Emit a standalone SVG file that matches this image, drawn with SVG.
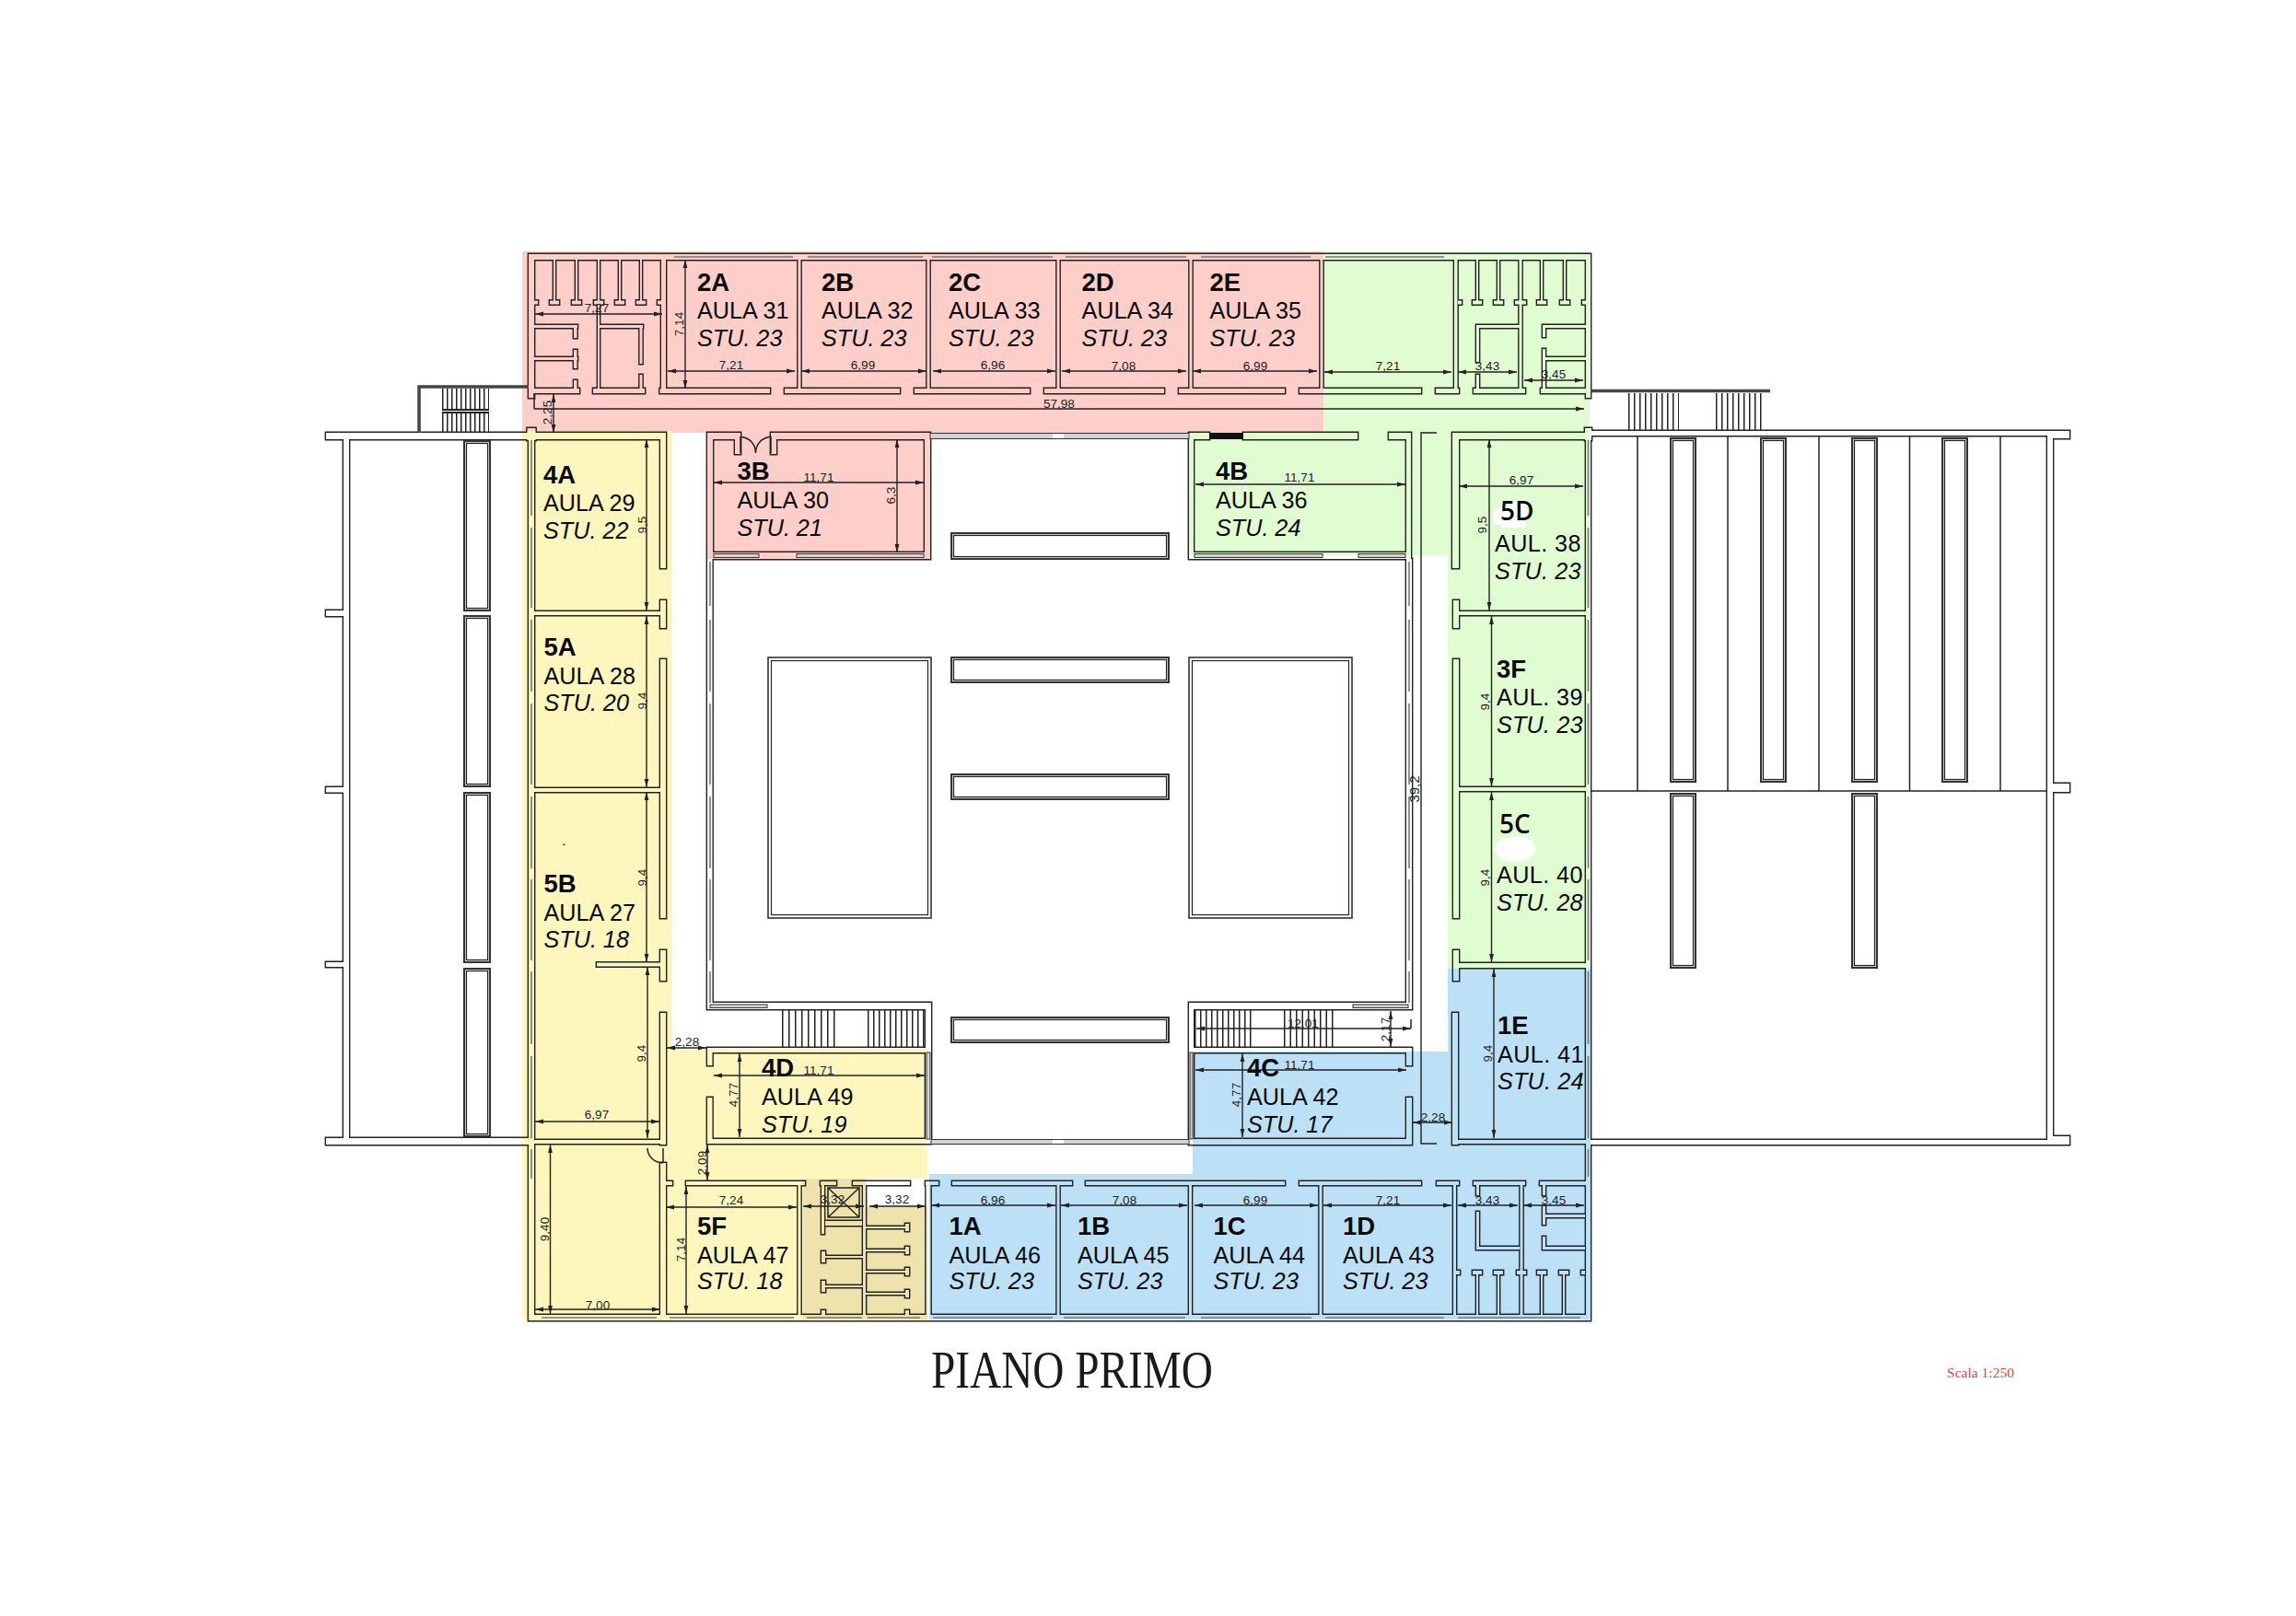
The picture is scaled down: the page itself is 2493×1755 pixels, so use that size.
<svg xmlns="http://www.w3.org/2000/svg" xmlns:xlink="http://www.w3.org/1999/xlink" width="2493" height="1755" viewBox="0 0 2493 1755">
<style>
text{font-family:"Liberation Sans",Arial,sans-serif;fill:#0a0a0a}
.c{font-size:27.5px;font-weight:700}
.a{font-size:25.2px}
.s{font-size:25.2px;font-style:italic}
.n{font-size:13.5px;text-anchor:middle;dominant-baseline:central;fill:#222}
.o{font-family:"Open Sans","Liberation Sans",sans-serif;font-size:28px;font-weight:600}
.d{fill:none;stroke:#222;stroke-width:1.4;marker-start:url(#ar);marker-end:url(#ar)}
.l{fill:none;stroke:#222;stroke-width:1.5}
.g{fill:none;stroke:#777;stroke-width:1.6}
.w1{fill:#d8d8d8;stroke:#333;stroke-width:2}
.w2{fill:#fff;stroke:#222;stroke-width:1.2}
.st{fill:none;stroke:#222}
.p{fill:#d4d4d4;stroke:#333;stroke-width:1}
</style>
<defs>
<marker id="ar" markerUnits="userSpaceOnUse" markerWidth="9" markerHeight="6" refX="9" refY="3" orient="auto-start-reverse"><path d="M0 .6L9 3L0 5.4z" fill="#222"/></marker>
<path id="walls" d="M574 276H1727V282H574ZM574 276H580V432H574ZM580 422H629V427H580ZM644 422H700V427H644ZM716.5 422H836V427H716.5ZM852 422H977V427H852ZM993 422H1118V427H993ZM1134 422H1264V427H1134ZM1280 422H1395V427H1280ZM1411 422H1543V427H1411ZM1559 422H1584V427H1559ZM1600 422H1656V427H1600ZM1673 422H1727V427H1673Z
M718 276H723V427H718ZM866.5 276H869.500V427H866.5ZM1006.5 276H1009.500V427H1006.5ZM1147.5 276H1150.500V427H1147.5ZM1291.5 276H1294.500V427H1291.5ZM1433.5 276H1436.500V427H1433.5ZM1579 276H1582.500V427H1579ZM1649.5 276H1652.500V427H1649.5ZM1722 276H1727V432H1722Z
M601 282H603V328H601ZM597 326.500H607V330.500H597ZM625 282H627V328H625ZM621 326.500H631V330.500H621ZM649 282H651V422H649ZM645 326.500H655V330.500H645ZM672 282H674V328H672ZM668 326.500H678V330.500H668ZM695 282H697V328H695ZM691 326.500H701V330.500H691ZM580 326.500H584V330.500H580ZM714 326.500H718V330.500H714Z
M651 353H698V356H651ZM694.5 353H697.500V395H694.5ZM694.5 407H697.500V422H694.5ZM580 353H627V356H580ZM623 353H626.500V367H623ZM623 380H626.500V400H623ZM580 388H627V391H580ZM623 413H626.500V423H623Z
M1603 282H1605V328H1603ZM1599 326.500H1609V330.500H1599ZM1626 282H1628V328H1626ZM1622 326.500H1632V330.500H1622ZM1673 282H1675V328H1673ZM1669 326.500H1679V330.500H1669ZM1698 282H1700V328H1698ZM1694 326.500H1704V330.500H1694ZM1583 326.500H1587V330.500H1583ZM1645 326.500H1657V330.500H1645ZM1718 326.500H1722V330.500H1718Z
M1603 353H1650V356H1603ZM1603 353H1606V393H1603ZM1603 407H1606V423H1603ZM1675 353H1722V356H1675ZM1675 353H1678V366H1675ZM1675 379H1678V423H1675ZM1675 388H1722V391H1675Z
M354 470H723V477H354ZM354 663H379V669H354ZM354 855H379V860.5H354ZM354 1045H379V1050H354ZM354 1236H574V1243H354ZM373 470H379V1243H373Z
M574 470H580V1434H574ZM572.5 465H581.5V478H572.5ZM580 664H717V668H580ZM580 856H717V860H580ZM648 1045.500H717V1049.500H648ZM574 1238H723V1242H574Z
M717 470H723V617H717ZM717 652H723V682H717ZM717 716H723V997H717ZM717 1032H723V1065H717ZM717 1100H723V1243H717ZM717 1263H723V1434H717Z
M723 1283H730V1287H723ZM745 1283H874V1287H745ZM866.5 1283H869.500V1434H866.5ZM891 1283H908V1287H891ZM892 1283H895V1340H892ZM937 1283H940V1434H937ZM926 1283H988V1287H926ZM1005 1283H1019V1287H1005ZM1005.5 1283H1010.500V1434H1005.5ZM896 1326H936V1331H896Z
M940 1332H985V1334H940ZM983 1329H987V1337H983ZM940 1357H985V1359H940ZM983 1354H987V1362H983ZM940 1380H985V1382H940ZM983 1377H987V1385H983ZM940 1404H985V1406H940ZM983 1401H987V1409H983ZM896 1364H937V1366H896ZM892 1359H896V1371H892ZM896 1396H937V1398H896ZM892 1391H896V1403H892ZM892 1423H896V1428H892ZM983 1423H987V1428H983Z
M1034 1283H1164V1287H1034ZM1179 1283H1395V1287H1179ZM1411 1283H1543V1287H1411ZM1560 1283H1584V1287H1560ZM1600 1283H1656V1287H1600ZM1672 1283H1727V1287H1672ZM574 1428H1727V1434H574Z
M1147.5 1283H1150.500V1434H1147.5ZM1291 1283H1294V1434H1291ZM1432.5 1283H1435.500V1434H1432.5ZM1578 1283H1581V1434H1578ZM1650.5 1283H1653.500V1434H1650.5Z
M1603 1382H1605V1428H1603ZM1599 1380H1609V1384H1599ZM1626 1382H1628V1428H1626ZM1622 1380H1632V1384H1622ZM1673 1382H1675V1428H1673ZM1669 1380H1679V1384H1669ZM1697 1382H1699V1428H1697ZM1693 1380H1703V1384H1693ZM1581 1380H1585V1384H1581ZM1647 1380H1657V1384H1647ZM1717 1380H1721V1384H1717Z
M1603 1283H1606V1298H1603ZM1603 1316H1606V1357H1603ZM1603 1354H1650V1357H1603ZM1675 1283H1678V1298H1675ZM1675 1310H1678V1330H1675ZM1678 1319H1721V1322H1678ZM1675 1343H1678V1357H1675ZM1675 1354H1721V1357H1675Z
M1722 470H1727V1434H1722ZM1721 465H1728V478H1721ZM1577 470H1724V477H1577ZM1577 470H1584V617H1577ZM1578 652H1584V682H1578ZM1578 716H1584V997H1578ZM1578 1032H1584V1065H1578ZM1577 1100H1583V1243H1577ZM1584 664H1722V668H1584ZM1584 855H1722V859H1584ZM1584 1046H1722V1051H1584ZM1577 1238H1722V1242H1577Z
M1727 468H2229V473H1727ZM1727 1238H2229V1243H1727ZM2223 468H2229V1243H2223ZM2229 468H2247V476H2229ZM2229 851H2247V860H2229ZM2229 1234H2247V1243H2229Z
M1291 470H1313V477H1291ZM1350 470H1474V477H1350ZM1508 470H1532V477H1508ZM1291 470H1296V607H1291ZM1527 470H1532V607H1527ZM1291 600H1532V607H1291Z
M768 470H801V477H768ZM838 470H1010V477H838ZM798 470H804V493H798ZM837 470H843V493H837ZM768 470H774V607H768ZM1004 470H1010V607H1004ZM768 600H1010V607H768Z
M768 1138H1011V1143H768ZM768 1138H773.5V1157H768ZM768 1192H773.5V1242H768ZM768 1237H1011V1242H768ZM1005 1089H1011V1242H1005Z
M1291 1138H1533V1143H1291ZM1291 1089H1296V1243H1291ZM1527 1138H1533V1157H1527ZM1527 1192H1533V1242H1527ZM1291 1237H1533V1243H1291Z
M768 607H773.5V1096H768ZM1527 607H1533V1096H1527ZM768 1089H1011V1096H768ZM1291 1089H1533V1096H1291Z"/>
<mask id="cut" maskUnits="userSpaceOnUse" x="0" y="0" width="2493" height="1755"><rect width="2493" height="1755" fill="#fff"/><use xlink:href="#walls" href="#walls" fill="#000"/></mask>
</defs>
<rect width="2493" height="1755" fill="#fff"/>
<g id="zones">
<path id="zone-pink" fill="#fdcfc8" d="M567 273H1437V470H1010V607H768V470H567Z"/>
<path id="zone-yellow" fill="#fdf6bd" d="M567 468H730V1139H1007V1280H872V1433H567Z"/>
<path id="zone-green" fill="#dffdd0" d="M1437 273H1726V1052H1572V603H1291V470H1437Z"/>
<path id="zone-blue" fill="#bce0f5" d="M1572 1052H1727V1433H1009V1275H1295V1142H1572Z"/>
<path id="zone-beige" fill="#eee3ac" d="M872 1280H940V1310H1007V1433H872Z"/>
<rect x="1630" y="544" width="27" height="29" fill="#fff"/><ellipse cx="1627" cy="561" rx="6" ry="9" fill="#fff"/>
<ellipse cx="1645" cy="922" rx="22" ry="14" fill="#fff"/>
<rect x="611.500" y="916.500" width="2" height="1.500" fill="#333"/>
</g>
<g id="walls-drawn" mask="url(#cut)"><use xlink:href="#walls" href="#walls" fill="#222" stroke="#222" stroke-width="2.800"/></g>
<g id="glazing">
<path class="g" d="M732 279H861M877 279H1002M1012 279H1143M1157 279H1288M1304 279H1423M1439 279H1568M588 1431H713M727 1431H862M876 1431H936M942 1431H999M1013 1431H1143M1155 1431H1287M1304 1431H1424M1439 1431H1568M1583 1431H1716"/>
<path class="g" d="M577 478V560M577 573V660M577 673V751M577 764V852M577 865V943M577 955V1043M577 1055V1134M577 1147V1236M577 1248V1280M1724.500 478V560M1724.500 573V660M1724.500 673V751M1724.500 764V852M1724.500 865V943M1724.500 955V1043M1724.500 1055V1134M1724.500 1147V1236M1724.500 1248V1278M771 610V658M771 673V751M771 764V852M771 865V943M771 955V1043M771 1055V1089M1530 610V658M1530 673V751M1530 764V852M1530 865V943M1530 955V1043M1530 1055V1089"/>
<rect class="p" x="1010" y="470.500" width="281" height="6"/><rect x="1143" y="471" width="12" height="5" fill="#fff"/>
<rect class="p" x="1011" y="1237.500" width="280" height="5"/><rect x="1143" y="1238" width="12" height="4" fill="#fff"/>
<rect class="p" x="775" y="601.500" width="49" height="4"/><rect class="p" x="865" y="601.500" width="138" height="4"/>
<rect class="p" x="1297" y="601.500" width="139" height="4"/><rect class="p" x="1475" y="601.500" width="51" height="4"/>
<rect class="p" x="1006" y="1143" width="4" height="94"/><rect class="p" x="1292" y="1143" width="3" height="94"/>
<rect class="p" x="771" y="1091" width="62" height="3.500"/><rect class="p" x="1469" y="1091" width="60" height="3.500"/>
<rect x="1313" y="470" width="37" height="7" fill="#111"/>
<path d="M455 470V420H574M1727 424.500H1922" fill="none" stroke="#444" stroke-width="3.500"/>
</g>
<g id="stairs">
<line class="st" x1="480" x2="531" y1="433.500" y2="433.500" stroke-width="23" stroke-dasharray="1.500 3.500"/>
<line class="st" x1="480" x2="531" y1="459" y2="459" stroke-width="22" stroke-dasharray="1.500 3.500"/>
<path class="l" d="M480 445H531M480 448H531" style="stroke-width:2"/>
<line class="st" x1="1768" x2="1823" y1="447.500" y2="447.500" stroke-width="41" stroke-dasharray="1.500 4.500"/>
<line class="st" x1="1863" x2="1917" y1="447.500" y2="447.500" stroke-width="41" stroke-dasharray="1.500 4.500"/>
<line class="st" x1="849" x2="908" y1="1117" y2="1117" stroke-width="42" stroke-dasharray="1.500 5.500"/>
<line class="st" x1="942" x2="1005" y1="1117" y2="1117" stroke-width="42" stroke-dasharray="1.500 4.500"/>
<line class="st" x1="1297" x2="1359" y1="1117" y2="1117" stroke-width="42" stroke-dasharray="1.500 4.500"/>
<line class="st" x1="1394" x2="1452" y1="1117" y2="1117" stroke-width="42" stroke-dasharray="1.500 5"/>
<path class="l" d="M899 1290H933V1322H899ZM899 1290L933 1322M933 1290L899 1322"/>
<path class="l" d="M804 474V492M837 474V492M804 474Q820 477 820.500 492M837 474Q821 477 820.500 492"/>
<path class="l" d="M703 1247A17 16 0 0 0 720 1263M720 1247V1263"/>
</g>
<g id="openings">
<path class="l" d="M1778 473V859M1876 473V859M1975 473V859M2073.500 473V859M2172 473V859M1727 859H2223M580 427V444"/>
<rect class="w1" x="504" y="479" width="28" height="184"/><rect class="w2" x="506.500" y="481.500" width="23" height="179"/>
<rect class="w1" x="504" y="669" width="28" height="185"/><rect class="w2" x="506.500" y="671.500" width="23" height="180"/>
<rect class="w1" x="504" y="861" width="28" height="184"/><rect class="w2" x="506.500" y="863.500" width="23" height="179"/>
<rect class="w1" x="504" y="1052" width="28" height="182"/><rect class="w2" x="506.500" y="1054.500" width="23" height="177"/>
<rect class="w1" x="1814" y="476" width="27" height="373"/><rect class="w2" x="1816.500" y="478.500" width="22" height="368"/>
<rect class="w1" x="1912" y="476" width="27" height="373"/><rect class="w2" x="1914.500" y="478.500" width="22" height="368"/>
<rect class="w1" x="2011" y="476" width="27" height="373"/><rect class="w2" x="2013.500" y="478.500" width="22" height="368"/>
<rect class="w1" x="2109" y="476" width="27" height="373"/><rect class="w2" x="2111.500" y="478.500" width="22" height="368"/>
<rect class="w1" x="1814" y="862" width="27" height="189"/><rect class="w2" x="1816.500" y="864.500" width="22" height="184"/>
<rect class="w1" x="2011" y="862" width="27" height="189"/><rect class="w2" x="2013.500" y="864.500" width="22" height="184"/>
<rect class="w1" x="1033" y="579" width="236" height="28"/><rect class="w2" x="1035.500" y="581.500" width="231" height="23"/>
<rect class="w1" x="1033" y="714" width="236" height="27"/><rect class="w2" x="1035.500" y="716.500" width="231" height="22"/>
<rect class="w1" x="1033" y="841" width="236" height="27"/><rect class="w2" x="1035.500" y="843.500" width="231" height="22"/>
<rect class="w1" x="1033" y="1105" width="236" height="27"/><rect class="w2" x="1035.500" y="1107.500" width="231" height="22"/>
<rect class="w1" x="834" y="714" width="177" height="283" style="fill:#fff;stroke-width:1.6"/><rect class="w2" x="837.500" y="717.500" width="170" height="276"/>
<rect class="w1" x="1291" y="714" width="177" height="283" style="fill:#fff;stroke-width:1.6"/><rect class="w2" x="1294.500" y="717.500" width="170" height="276"/>
</g>
<g id="connectors">
<path class="d" d="M581 341H719"/><path class="d" d="M725 403H863"/><path class="d" d="M870 403H1006"/><path class="d" d="M1013 403H1146"/><path class="d" d="M1153 403H1288"/><path class="d" d="M1295 403H1430"/><path class="d" d="M1438 404H1576"/><path class="d" d="M1583 404H1647"/><path class="d" d="M1655 413H1719"/>
<path class="d" style="marker-start:none" d="M580 444H1720"/>
<path class="d" d="M601 428V470"/><path class="d" d="M744 282V422"/><path class="d" d="M775 524H1003"/><path class="d" d="M974 477V600"/><path class="d" d="M1298 526H1526"/>
<path class="d" style="marker-start:none;marker-end:none" d="M1560 470H1543V1242H1560"/>
<path class="d" d="M1617 477V663"/><path class="d" d="M1584 528H1719"/><path class="d" d="M1619.500 669V854"/><path class="d" d="M1619.500 860V1045"/><path class="d" d="M1622 1052V1236"/>
<path class="d" d="M702 477V663"/><path class="d" d="M702 669V855"/><path class="d" d="M702 860V1045"/><path class="d" d="M703 1050V1236"/>
<path class="d" d="M581 1218H716"/><path class="d" d="M581 1422H717"/><path class="d" d="M597.500 1243V1427"/><path class="d" d="M724 1138H767"/><path class="d" d="M768 1243V1282"/>
<path class="d" d="M775 1168H1004"/><path class="d" d="M803 1144V1235"/><path class="d" d="M723 1311H865"/><path class="d" d="M745 1288V1427"/>
<path class="d" d="M872 1310H938"/><path class="d" d="M944 1310H1005"/><path class="d" d="M1011 1309H1146"/><path class="d" d="M1152 1309H1289"/><path class="d" d="M1297 1309H1431"/><path class="d" d="M1437 1309H1576"/><path class="d" d="M1583 1309H1648"/><path class="d" d="M1654 1309H1720"/>
<path class="d" d="M1298 1162H1527"/><path class="d" d="M1349 1144V1235"/><path class="d" d="M1299 1117H1532"/><path class="l" d="M1532 1107V1117"/><path class="d" d="M1510 1098V1137"/><path class="d" d="M1534 1219H1577"/>
</g>
<g id="dimensions">
<text class="n" x="648" y="334">7,27</text><text class="n" x="794" y="396">7,21</text><text class="n" x="937" y="396">6,99</text><text class="n" x="1078" y="396">6,96</text><text class="n" x="1220" y="397">7,08</text><text class="n" x="1363" y="397">6,99</text><text class="n" x="1507" y="397">7,21</text><text class="n" x="1615" y="397">3,43</text><text class="n" x="1687" y="406">3,45</text>
<text class="n" x="1150" y="438">57,98</text>
<text class="n" transform="rotate(-90 594 448)" x="594" y="448">2,25</text><text class="n" transform="rotate(-90 737 352)" x="737" y="352">7,14</text>
<text class="n" x="889" y="518">11,71</text><text class="n" transform="rotate(-90 967 538)" x="967" y="538">6,3</text><text class="n" x="1411" y="518">11,71</text>
<text class="n" transform="rotate(-90 1609 570)" x="1609" y="570">9,5</text><text class="n" x="1652" y="521">6,97</text>
<text class="n" transform="rotate(-90 1612 762)" x="1612" y="762">9,4</text><text class="n" transform="rotate(-90 1612 953)" x="1612" y="953">9,4</text><text class="n" transform="rotate(-90 1615 1144)" x="1615" y="1144">9,4</text>
<text class="n" transform="rotate(-90 1535 857)" x="1535" y="857" style="font-size:15px">39,2</text>
<text class="n" transform="rotate(-90 697 570)" x="697" y="570">9,5</text><text class="n" transform="rotate(-90 697 761)" x="697" y="761">9,4</text><text class="n" transform="rotate(-90 697 953)" x="697" y="953">9,4</text><text class="n" transform="rotate(-90 696 1144)" x="696" y="1144">9,4</text>
<text class="n" x="648" y="1210">6,97</text><text class="n" x="649" y="1417">7,00</text><text class="n" transform="rotate(-90 591.500 1335)" x="591.500" y="1335">9,40</text>
<text class="n" x="746" y="1131">2,28</text><text class="n" transform="rotate(-90 762 1263)" x="762" y="1263">2,09</text>
<text class="n" x="889" y="1162">11,71</text><text class="n" transform="rotate(-90 796.500 1189)" x="796.500" y="1189">4,77</text>
<text class="n" x="794" y="1303">7,24</text><text class="n" transform="rotate(-90 739 1357)" x="739" y="1357">7,14</text><text class="n" x="904" y="1302">3,32</text><text class="n" x="974" y="1302">3,32</text>
<text class="n" x="1078" y="1303">6,96</text><text class="n" x="1221" y="1303">7,08</text><text class="n" x="1363" y="1303">6,99</text><text class="n" x="1507" y="1303">7,21</text><text class="n" x="1615" y="1303">3,43</text><text class="n" x="1687" y="1303">3,45</text>
<text class="n" x="1411" y="1156">11,71</text><text class="n" transform="rotate(-90 1342 1189)" x="1342" y="1189">4,77</text><text class="n" x="1415" y="1111">12,01</text><text class="n" transform="rotate(-90 1504 1118)" x="1504" y="1118">2,17</text><text class="n" x="1556" y="1213">2,28</text>
</g>
<g id="room-2A"><text class="c" x="757" y="316">2A</text><text class="a" x="757" y="346">AULA 31</text><text class="s" x="757" y="376">STU. 23</text></g>
<g id="room-2B"><text class="c" x="892" y="316">2B</text><text class="a" x="892" y="346">AULA 32</text><text class="s" x="892" y="376">STU. 23</text></g>
<g id="room-2C"><text class="c" x="1030" y="316">2C</text><text class="a" x="1030" y="346">AULA 33</text><text class="s" x="1030" y="376">STU. 23</text></g>
<g id="room-2D"><text class="c" x="1174.500" y="316">2D</text><text class="a" x="1174.500" y="346">AULA 34</text><text class="s" x="1174.500" y="376">STU. 23</text></g>
<g id="room-2E"><text class="c" x="1313.500" y="316">2E</text><text class="a" x="1313.500" y="346">AULA 35</text><text class="s" x="1313.500" y="376">STU. 23</text></g>
<g id="room-3B"><text class="c" x="800.500" y="521">3B</text><text class="a" x="800.500" y="552">AULA 30</text><text class="s" x="800.500" y="582">STU. 21</text></g>
<g id="room-4B"><text class="c" x="1320" y="521">4B</text><text class="a" x="1320" y="552">AULA 36</text><text class="s" x="1320" y="582">STU. 24</text></g>
<g id="room-4A"><text class="c" x="590" y="525">4A</text><text class="a" x="590" y="555">AULA 29</text><text class="s" x="590" y="585">STU. 22</text></g>
<g id="room-5A"><text class="c" x="590.500" y="712">5A</text><text class="a" x="590.500" y="742.500">AULA 28</text><text class="s" x="590.500" y="772">STU. 20</text></g>
<g id="room-5B"><text class="c" x="590.500" y="969">5B</text><text class="a" x="590.500" y="1000">AULA 27</text><text class="s" x="590.500" y="1029">STU. 18</text></g>
<g id="room-5D"><text class="o" x="1629" y="565">5D</text><text class="a" x="1623" y="599" letter-spacing=".4">AUL. 38</text><text class="s" x="1623" y="629" letter-spacing=".2">STU. 23</text></g>
<g id="room-3F"><text class="c" x="1625" y="736">3F</text><text class="a" x="1625" y="766" letter-spacing=".4">AUL. 39</text><text class="s" x="1625" y="796" letter-spacing=".2">STU. 23</text></g>
<g id="room-5C"><text class="o" x="1628" y="905">5C</text><text class="a" x="1625" y="959" letter-spacing=".4">AUL. 40</text><text class="s" x="1625" y="989" letter-spacing=".2">STU. 28</text></g>
<g id="room-1E"><text class="c" x="1626" y="1123">1E</text><text class="a" x="1626" y="1154" letter-spacing=".4">AUL. 41</text><text class="s" x="1626" y="1183" letter-spacing=".2">STU. 24</text></g>
<g id="room-4D"><text class="c" x="827" y="1169">4D</text><text class="a" x="827" y="1200">AULA 49</text><text class="s" x="827" y="1230">STU. 19</text></g>
<g id="room-4C"><text class="c" x="1354" y="1169">4C</text><text class="a" x="1354" y="1200">AULA 42</text><text class="s" x="1354" y="1230">STU. 17</text></g>
<g id="room-5F"><text class="c" x="757" y="1341">5F</text><text class="a" x="757" y="1372">AULA 47</text><text class="s" x="757" y="1400">STU. 18</text></g>
<g id="room-1A"><text class="c" x="1030.500" y="1341">1A</text><text class="a" x="1030.500" y="1372">AULA 46</text><text class="s" x="1030.500" y="1400">STU. 23</text></g>
<g id="room-1B"><text class="c" x="1170" y="1341">1B</text><text class="a" x="1170" y="1372">AULA 45</text><text class="s" x="1170" y="1400">STU. 23</text></g>
<g id="room-1C"><text class="c" x="1317.500" y="1341">1C</text><text class="a" x="1317.500" y="1372">AULA 44</text><text class="s" x="1317.500" y="1400">STU. 23</text></g>
<g id="room-1D"><text class="c" x="1458" y="1341">1D</text><text class="a" x="1458" y="1372">AULA 43</text><text class="s" x="1458" y="1400">STU. 23</text></g>
<g id="titles">
<text x="1011" y="1507" textLength="306" lengthAdjust="spacingAndGlyphs" style="font-family:'Liberation Serif',serif;font-size:56px;fill:#1a1a1a">PIANO PRIMO</text>
<text x="2114" y="1496" textLength="73" lengthAdjust="spacingAndGlyphs" style="font-family:'Liberation Serif',serif;font-size:14px;fill:#d8474a">Scala 1:250</text>
</g>
</svg>
